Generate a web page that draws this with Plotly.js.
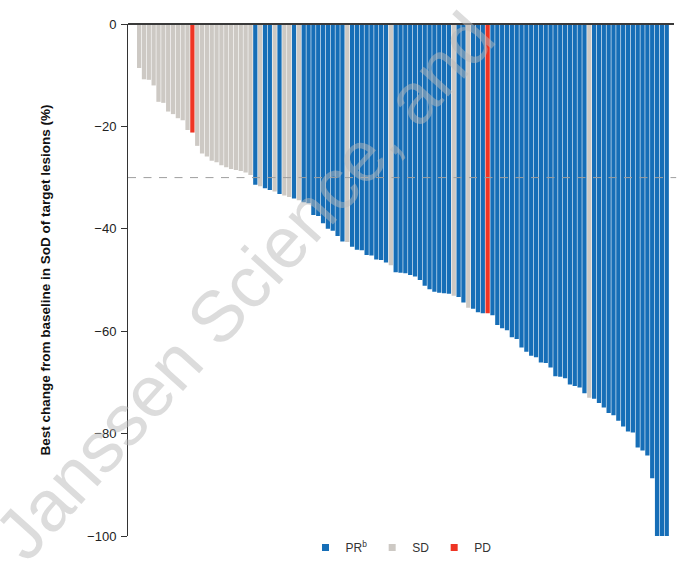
<!DOCTYPE html>
<html>
<head>
<meta charset="utf-8">
<script src="https://cdn.plot.ly/plotly-3.0.1.min.js"></script>
<style>html,body{margin:0;padding:0;background:#fff;}#chart{width:678px;height:571px;}</style>
</head>
<body>
<div id="chart"></div>
<script>
// Best % change from baseline in SoD of target lesions, one bar per patient (sorted)
const changeValues = [
  -8.6, -10.8, -10.9, -12.0, -15.2, -15.4, -17.1, -17.6, -18.4, -18.8,
  -20.7, -21.2, -23.8, -25.3, -25.9, -26.7, -27.0, -27.6, -28.0, -28.3,
  -28.5, -28.7, -29.0, -29.5, -31.4, -31.7, -32.1, -32.4, -32.7, -33.2,
  -33.5, -33.8, -34.1, -34.4, -34.8, -35.0, -37.3, -37.5, -38.9, -40.0,
  -40.4, -41.4, -42.5, -42.6, -43.5, -44.1, -44.2, -45.1, -45.2, -46.0,
  -46.1, -46.6, -47.1, -48.5, -48.6, -48.7, -49.0, -49.3, -50.0, -51.1,
  -51.8, -52.3, -52.5, -52.6, -52.7, -53.1, -53.3, -54.4, -55.4, -55.6,
  -56.3, -56.5, -56.5, -56.9, -58.8, -59.4, -59.8, -61.2, -61.5, -63.2,
  -64.0, -64.8, -65.1, -66.1, -66.2, -67.1, -68.8, -68.9, -69.2, -70.4,
  -70.7, -71.0, -72.1, -73.0, -73.2, -74.0, -74.9, -76.0, -76.4, -77.5,
  -78.6, -79.6, -79.8, -82.7, -83.3, -84.3, -88.7, -100, -100, -100
];
// Best overall response per patient
const responses = [
  'SD','SD','SD','SD','SD','SD','SD','SD','SD','SD',
  'SD','PD','SD','SD','SD','SD','SD','SD','SD','SD',
  'SD','SD','SD','SD','PR','SD','PR','PR','SD','PR',
  'SD','SD','PR','SD','PR','PR','PR','PR','PR','PR',
  'PR','PR','PR','SD','PR','PR','PR','PR','PR','PR',
  'PR','PR','SD','PR','PR','PR','PR','PR','PR','PR',
  'PR','PR','PR','PR','PR','SD','PR','PR','SD','PR',
  'PR','PR','PD','PR','PR','PR','PR','PR','PR','PR',
  'PR','PR','PR','PR','PR','PR','PR','PR','PR','PR',
  'PR','PR','PR','SD','PR','PR','PR','PR','PR','PR',
  'PR','PR','PR','PR','PR','PR','PR','PR','PR','PR'
];
const responseCategories = ['PR', 'SD', 'PD'];
const legendLabels = {PR: 'PR<sup>b</sup>', SD: 'SD', PD: 'PD'};
const responseColors = {PR: '#166eb7', SD: '#cdc9c4', PD: '#ee3424'};
const yTickValues = [0, -20, -40, -60, -80, -100];
const thresholdPR = -30;

const patientIds = changeValues.map((v, i) => i + 1);
const traces = [];
responseCategories.forEach(cat => {
  const xs = [], ys = [];
  patientIds.forEach((id, i) => { if (responses[i] === cat) { xs.push(id); ys.push(changeValues[i]); } });
  traces.push({
    type: 'bar', x: xs, y: ys, width: 0.88, name: cat, showlegend: false,
    marker: {color: responseColors[cat], line: {width: 0}},
    hoverinfo: 'x+y'
  });
});
// legend entries (small squares)
responseCategories.forEach(cat => {
  traces.push({
    type: 'scatter', mode: 'markers', x: [null], y: [null], name: legendLabels[cat],
    marker: {symbol: 'square', size: 7, color: responseColors[cat]},
    showlegend: true, hoverinfo: 'skip'
  });
});

const font = 'Liberation Sans, Arial, Helvetica, sans-serif';
const layout = {
  width: 678, height: 571,
  margin: {l: 128, r: 4, t: 24, b: 35},
  paper_bgcolor: '#ffffff', plot_bgcolor: '#ffffff',
  font: {family: font, color: '#222', size: 13},
  barmode: 'overlay',
  showlegend: true,
  legend: {orientation: 'h', x: 0.5, xanchor: 'center', y: 0.006, yanchor: 'top',
           font: {size: 12, color: '#333'}, itemwidth: 30, traceorder: 'normal'},
  xaxis: {range: [-1.3, 111.5], showticklabels: false, showline: false, ticks: '',
          showgrid: false, zeroline: false, fixedrange: true},
  yaxis: {range: [-100, 0], tickvals: yTickValues, ticks: 'outside', ticklen: 6,
          tickcolor: '#333', tickwidth: 1, showline: true, linecolor: '#333', linewidth: 1,
          showgrid: false, zeroline: true, zerolinecolor: '#3a3a3a', zerolinewidth: 1.5,
          zerolinelayer: 'above traces',
          tickfont: {size: 13, color: '#222'}, ticklabelstandoff: 2,
          title: {text: 'Best change from baseline in SoD of target lesions (%)',
                  font: {size: 13.5, color: '#111', family: font, weight: 'bold'}, standoff: 33}},
  shapes: [{type: 'line', xref: 'paper', x0: 0, x1: 1.004, yref: 'y', y0: thresholdPR, y1: thresholdPR,
            line: {color: '#9e9e9e', width: 1, dash: '8px,7.5px'}, layer: 'above'}],
  annotations: [{text: 'Janssen Science, and', xref: 'paper', yref: 'paper',
                 x: (244 - 128) / 546, y: (536 - 286) / 512, xanchor: 'center', yanchor: 'middle',
                 showarrow: false, textangle: -48,
                 font: {family: font, size: 72, color: 'rgba(185,185,185,0.5)'}}]
};

Plotly.newPlot('chart', traces, layout, {displayModeBar: false, staticPlot: true});
</script>
</body>
</html>
